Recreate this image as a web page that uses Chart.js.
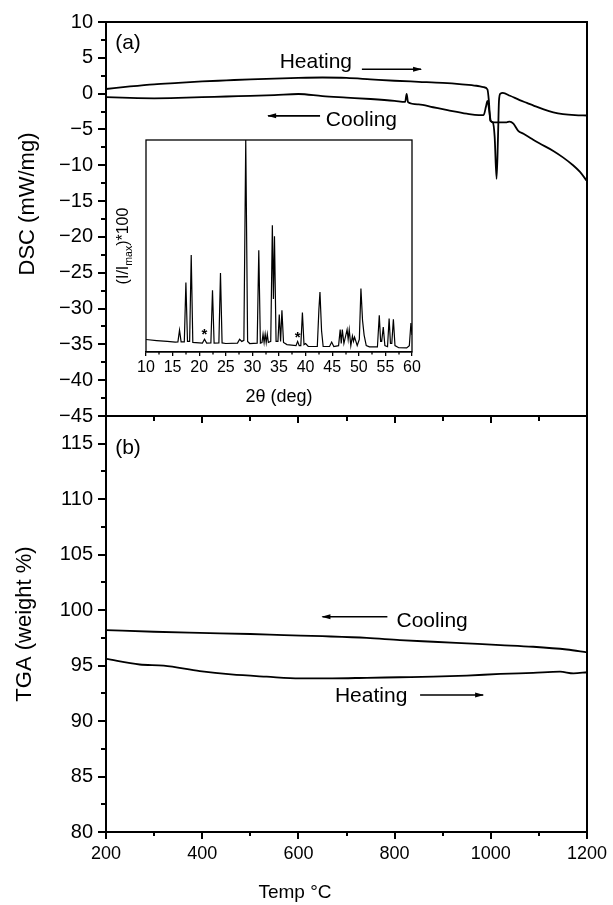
<!DOCTYPE html>
<html>
<head>
<meta charset="utf-8">
<script src="https://cdn.jsdelivr.net/npm/chart.js@4.4.1/dist/chart.umd.min.js"></script>
<style>
  html, body { margin: 0; padding: 0; background: #fff; }
  #wrap { position: relative; width: 613px; height: 905px; background: #fff; overflow: hidden; }
  #wrap canvas { position: absolute; left: 0; top: 0; }
</style>
</head>
<body>
<div id="wrap">
  <canvas id="dsc" width="613" height="905"></canvas>
  <canvas id="tga" width="613" height="905"></canvas>
  <canvas id="xrd" width="613" height="905"></canvas>
</div>
<script>
// ---------- tick labels ----------
const tempTicks = [200, 400, 600, 800, 1000, 1200];
const tempMinorTicks = [300, 500, 700, 900, 1100];
const dscTicks = [-45, -40, -35, -30, -25, -20, -15, -10, -5, 0, 5, 10];
const dscMinorTicks = [-42.5, -37.5, -32.5, -27.5, -22.5, -17.5, -12.5, -7.5, -2.5, 2.5, 7.5];
const tgaTicks = [80, 85, 90, 95, 100, 105, 110, 115];
const tgaMinorTicks = [82.5, 87.5, 92.5, 97.5, 102.5, 107.5, 112.5, 117.5];
const xrdTicks = [10, 15, 20, 25, 30, 35, 40, 45, 50, 55, 60];
const xrdMinorTicks = [12.5, 17.5, 22.5, 27.5, 32.5, 37.5, 42.5, 47.5, 52.5, 57.5];

// ---------- (a) DSC, mW/mg ----------
const dscHeatTemp = [200, 250, 300, 350, 400, 450, 500, 550, 600, 650, 700, 750, 800, 850, 900, 940, 970, 985, 993, 996, 999, 1004, 1008, 1012, 1015, 1017, 1020, 1025, 1040, 1060, 1075, 1090, 1110, 1130, 1150, 1175, 1200];
const dscHeatValue = [0.65, 1.0, 1.3, 1.5, 1.7, 1.85, 2.0, 2.1, 2.2, 2.25, 2.2, 2.0, 1.8, 1.65, 1.5, 1.3, 1.1, 0.9, 0.6, -1.0, -3.8, -4.0, -6.0, -11.9, -6.0, -1.0, 0.0, 0.1, -0.3, -0.9, -1.3, -1.7, -2.2, -2.6, -2.85, -3.0, -3.05];
const dscCoolTemp = [200, 250, 300, 350, 400, 450, 500, 550, 600, 650, 700, 750, 800, 822, 825, 828, 850, 880, 910, 950, 975, 985, 990, 993, 997, 1000, 1005, 1020, 1033, 1039, 1047, 1057, 1068, 1085, 1100, 1130, 1150, 1171, 1185, 1200];
const dscCoolValue = [-0.5, -0.6, -0.65, -0.6, -0.5, -0.4, -0.3, -0.2, -0.05, -0.35, -0.55, -0.75, -1.0, -1.15, -0.05, -1.2, -1.5, -1.9, -2.3, -2.8, -3.0, -3.0, -1.8, -1.0, -2.5, -3.8, -4.0, -4.0, -4.0, -3.9, -4.2, -5.2, -5.6, -6.3, -6.9, -8.0, -8.9, -10.0, -10.9, -12.2];

// ---------- (b) TGA, weight % ----------
const tgaCoolTemp = [200, 300, 395, 500, 570, 650, 742, 811, 880, 950, 1020, 1088, 1158, 1200];
const tgaCoolValue = [98.2, 98.05, 97.95, 97.85, 97.75, 97.65, 97.5, 97.3, 97.15, 97.0, 96.85, 96.7, 96.45, 96.2];
const tgaHeatTemp = [200, 270, 320, 395, 460, 534, 603, 670, 742, 810, 880, 950, 1020, 1088, 1144, 1172, 1200];
const tgaHeatValue = [95.6, 95.1, 95.0, 94.5, 94.2, 94.0, 93.85, 93.85, 93.9, 93.95, 94.0, 94.1, 94.25, 94.35, 94.45, 94.3, 94.4];

// ---------- inset XRD, 2theta (deg) vs (I/Imax)*100 ----------
const xrdAngle = [10.0, 12.0, 14.0, 15.5, 16.0, 16.3, 16.6, 17.2, 17.5, 17.8, 18.2, 18.5, 18.8, 20.6, 21.0, 21.4, 22.2, 22.5, 22.8, 23.7, 24.0, 24.3, 25.0, 27.2, 27.6, 28.0, 28.4, 28.75, 29.1, 29.5, 30.9, 31.2, 31.5, 31.8, 32.0, 32.2, 32.4, 32.6, 32.8, 33.0, 33.45, 33.75, 33.95, 34.15, 34.45, 34.8, 35.05, 35.3, 35.55, 35.85, 36.5, 38.2, 38.5, 38.8, 39.1, 39.4, 39.7, 40.0, 40.5, 42.2, 42.5, 42.7, 43.0, 43.3, 44.5, 44.9, 45.3, 46.2, 46.5, 46.7, 46.9, 47.2, 47.8, 48.0, 48.2, 48.5, 48.8, 49.0, 49.2, 49.4, 49.7, 50.1, 50.4, 50.7, 51.0, 51.4, 52.0, 53.5, 53.85, 54.1, 54.3, 54.6, 54.9, 55.4, 55.7, 55.95, 56.2, 56.5, 56.8, 57.5, 59.0, 59.5, 59.8, 60.0];
const xrdIntensity = [5.9, 5.4, 5.0, 4.7, 4.8, 10.3, 4.8, 4.8, 32.8, 5.0, 5.0, 45.7, 4.5, 4.2, 6.0, 4.2, 4.3, 29.1, 4.2, 4.3, 37.3, 4.3, 4.0, 4.2, 6.0, 5.0, 5.5, 100, 5.0, 4.0, 4.2, 48.0, 4.2, 4.5, 8.4, 4.5, 8.5, 4.5, 8.4, 4.5, 5.0, 59.8, 25.0, 54.6, 5.0, 5.0, 17.7, 5.0, 19.7, 4.5, 3.5, 3.0, 5.0, 3.0, 3.0, 18.6, 3.5, 4.0, 2.6, 2.6, 20.0, 28.3, 10.0, 2.6, 2.6, 4.7, 2.6, 3.0, 10.6, 4.0, 10.6, 4.0, 10.6, 6.0, 10.5, 3.0, 7.5, 5.0, 7.0, 5.5, 3.0, 6.0, 29.9, 15.0, 8.0, 3.0, 2.4, 2.4, 17.3, 5.0, 5.0, 11.8, 3.0, 2.5, 15.8, 4.0, 4.0, 15.4, 3.0, 2.0, 1.9, 3.0, 13.7, 8.0];
const xrdStarAngles = [21.0, 38.5];
const xrdStarLevels = [8.0, 6.5];

// ---------- helpers ----------
const FONT = "'Liberation Sans', Arial, Helvetica, sans-serif";
Chart.defaults.font.family = FONT;
Chart.defaults.color = '#000';

const pts = (xs, ys) => xs.map((x, i) => ({ x: x, y: ys[i] }));
const fixTicks = (list) => (scale) => { scale.ticks = list.map(v => ({ value: v })); };
const fixWidth = (w) => (scale) => { scale.width = w; };
const fixHeight = (h) => (scale) => { scale.height = h; };
const fmt = (v) => (v < 0 ? '\u2212' + Math.abs(v) : String(v));

function drawArrow(ctx, x1, x2, y, dir, lw) {
  ctx.lineWidth = lw;
  ctx.beginPath();
  ctx.moveTo(x1, y); ctx.lineTo(x2, y); ctx.stroke();
  const hx = dir === 'right' ? x2 : x1;
  const s = dir === 'right' ? -1 : 1;
  ctx.beginPath();
  ctx.moveTo(hx - s, y);
  ctx.lineTo(hx + s * 8, y - 2.5);
  ctx.lineTo(hx + s * 8, y + 2.5);
  ctx.closePath(); ctx.fill();
}

function decor(cfg) {
  return {
    id: 'decor',
    afterDraw(chart) {
      const ctx = chart.ctx, a = chart.chartArea;
      const xs = chart.scales.x, ys = chart.scales.y;
      ctx.save();
      ctx.strokeStyle = '#000'; ctx.fillStyle = '#000';
      ctx.lineWidth = cfg.frameWidth;
      ctx.strokeRect(a.left, a.top, a.right - a.left, a.bottom - a.top);
      ctx.lineWidth = cfg.tickWidth;
      ctx.beginPath();
      (cfg.minorX || []).forEach(v => {
        const p = Math.round(xs.getPixelForValue(v));
        ctx.moveTo(p, a.bottom); ctx.lineTo(p, a.bottom + cfg.minorLenX);
      });
      (cfg.minorY || []).forEach(v => {
        const p = Math.round(ys.getPixelForValue(v));
        ctx.moveTo(a.left, p); ctx.lineTo(a.left - cfg.minorLenY, p);
      });
      ctx.stroke();
      (cfg.texts || []).forEach(t => {
        ctx.save();
        ctx.font = t.font;
        ctx.textAlign = t.align || 'left';
        ctx.textBaseline = t.baseline || 'alphabetic';
        const px = t.px !== undefined ? t.px : xs.getPixelForValue(t.x);
        const py = t.py !== undefined ? t.py : ys.getPixelForValue(t.y);
        ctx.translate(px, py);
        if (t.rotate) ctx.rotate(t.rotate);
        ctx.fillText(t.text, 0, 0);
        ctx.restore();
      });
      (cfg.arrows || []).forEach(ar => {
        drawArrow(ctx, xs.getPixelForValue(ar.x1), xs.getPixelForValue(ar.x2), ys.getPixelForValue(ar.y), ar.dir, 1.6);
      });
      if (cfg.after) cfg.after(ctx, chart);
      ctx.restore();
    }
  };
}

const lineDs = (data, w, mode) => ({
  data: data, borderColor: '#000', backgroundColor: '#000', borderWidth: w,
  pointRadius: 0, fill: false, tension: mode === 'monotone' ? 0.4 : 0,
  cubicInterpolationMode: mode === 'monotone' ? 'monotone' : 'default'
});

const baseOpts = {
  responsive: false, animation: false, events: [],
  plugins: { legend: { display: false }, tooltip: { enabled: false } }
};

// ---------- (a) DSC chart ----------
new Chart(document.getElementById('dsc'), {
  type: 'line',
  data: { datasets: [
    lineDs(pts(dscHeatTemp, dscHeatValue), 1.8, 'monotone'),
    lineDs(pts(dscCoolTemp, dscCoolValue), 1.8, 'monotone')
  ] },
  options: Object.assign({}, baseOpts, {
    layout: { padding: { left: 0, top: 22, right: 26, bottom: 475 } },
    scales: {
      x: {
        type: 'linear', min: 200, max: 1200,
        afterBuildTicks: fixTicks(tempTicks), afterFit: fixHeight(14),
        ticks: { display: false },
        grid: { drawOnChartArea: false, color: '#000', lineWidth: 2, tickLength: 7 },
        border: { display: true, color: '#000', width: 2 }
      },
      y: {
        type: 'linear', min: -45, max: 10,
        afterBuildTicks: fixTicks(dscTicks), afterFit: fixWidth(106),
        ticks: { font: { size: 20 }, padding: 5, color: '#000', callback: fmt },
        grid: { drawOnChartArea: false, color: '#000', lineWidth: 2, tickLength: 8 },
        border: { display: true, color: '#000', width: 2 }
      }
    }
  }),
  plugins: [decor({
    frameWidth: 2, tickWidth: 2, minorX: tempMinorTicks, minorY: dscMinorTicks, minorLenX: 5, minorLenY: 5,
    texts: [
      { text: 'DSC (mW/mg)', px: 34, py: 204, font: '22px ' + FONT, align: 'center', baseline: 'alphabetic', rotate: -Math.PI / 2 },
      { text: '(a)', x: 219, y: 7.1, font: '21px ' + FONT, baseline: 'middle' },
      { text: 'Heating', x: 561, y: 3.6, font: '21px ' + FONT },
      { text: 'Cooling', x: 657, y: -4.5, font: '21px ' + FONT }
    ],
    arrows: [
      { x1: 732, x2: 855, y: 3.4, dir: 'right' },
      { x1: 537, x2: 645, y: -3.1, dir: 'left' }
    ]
  })]
});

// ---------- (b) TGA chart ----------
new Chart(document.getElementById('tga'), {
  type: 'line',
  data: { datasets: [
    lineDs(pts(tgaCoolTemp, tgaCoolValue), 1.8, 'monotone'),
    lineDs(pts(tgaHeatTemp, tgaHeatValue), 1.8, 'monotone')
  ] },
  options: Object.assign({}, baseOpts, {
    layout: { padding: { left: 0, top: 416, right: 26, bottom: 0 } },
    scales: {
      x: {
        type: 'linear', min: 200, max: 1200,
        afterBuildTicks: fixTicks(tempTicks), afterFit: fixHeight(73),
        ticks: { font: { size: 18 }, padding: 4, color: '#000', maxRotation: 0, callback: fmt },
        grid: { drawOnChartArea: false, color: '#000', lineWidth: 2, tickLength: 7 },
        border: { display: true, color: '#000', width: 2 }
      },
      y: {
        type: 'linear', min: 80, max: 117.5,
        afterBuildTicks: fixTicks(tgaTicks), afterFit: fixWidth(106),
        ticks: { font: { size: 20 }, padding: 5, color: '#000', callback: fmt },
        grid: { drawOnChartArea: false, color: '#000', lineWidth: 2, tickLength: 8 },
        border: { display: true, color: '#000', width: 2 },
        title: { display: true, text: 'TGA (weight %)', font: { size: 22 }, padding: { top: 12, bottom: 0 }, color: '#000' }
      }
    }
  }),
  plugins: [decor({
    frameWidth: 2, tickWidth: 2, minorX: tempMinorTicks, minorY: tgaMinorTicks, minorLenX: 4, minorLenY: 5,
    texts: [
      { text: '(b)', x: 219, y: 114.6, font: '21px ' + FONT, baseline: 'middle' },
      { text: 'Cooling', x: 804, y: 98.5, font: '21px ' + FONT },
      { text: 'Heating', x: 676, y: 91.7, font: '21px ' + FONT },
      { text: 'Temp \u00B0C', px: 295, py: 898, font: '19px ' + FONT, align: 'center' }
    ],
    arrows: [
      { x1: 650, x2: 785, y: 99.4, dir: 'left' },
      { x1: 853, x2: 984, y: 92.35, dir: 'right' }
    ]
  })]
});

// ---------- inset XRD chart ----------
new Chart(document.getElementById('xrd'), {
  type: 'line',
  data: { datasets: [ lineDs(pts(xrdAngle, xrdIntensity), 1.2, 'straight') ] },
  options: Object.assign({}, baseOpts, {
    layout: { padding: { left: 146, top: 140, right: 201, bottom: 497 } },
    scales: {
      x: {
        type: 'linear', min: 10, max: 60,
        afterBuildTicks: fixTicks(xrdTicks), afterFit: fixHeight(56),
        ticks: { font: { size: 16 }, padding: 2, color: '#000', maxRotation: 0, autoSkip: false },
        grid: { drawOnChartArea: false, color: '#000', lineWidth: 1.3, tickLength: 4 },
        border: { display: true, color: '#000', width: 1.3 },
        title: { display: true, text: '2\u03B8 (deg)', font: { size: 18 }, padding: { top: 0, bottom: 0 }, color: '#000', align: 'center' }
      },
      y: { type: 'linear', min: 0, max: 100, display: false }
    }
  }),
  plugins: [decor({
    frameWidth: 1.3, tickWidth: 1.3, minorX: xrdMinorTicks, minorY: [], minorLenX: 2.5, minorLenY: 0,
    texts: xrdStarAngles.map((a, i) => ({ text: '*', x: a, y: xrdStarLevels[i], font: 'bold 15px ' + FONT, align: 'center', baseline: 'middle' })),
    after: (ctx, chart) => {
      const a = chart.chartArea;
      const cx = a.left - 23, cy = 246;
      const big = '16px ' + FONT, small = '10.5px ' + FONT;
      ctx.font = big; const w1 = ctx.measureText('(I/I').width; const w3 = ctx.measureText(')*100').width;
      ctx.font = small; const w2 = ctx.measureText('max').width;
      const total = w1 + w2 + w3;
      ctx.translate(cx, cy); ctx.rotate(-Math.PI / 2);
      ctx.textAlign = 'left'; ctx.textBaseline = 'alphabetic';
      const x0 = -total / 2;
      ctx.font = big; ctx.fillText('(I/I', x0, 5);
      ctx.font = small; ctx.fillText('max', x0 + w1, 9);
      ctx.font = big; ctx.fillText(')*100', x0 + w1 + w2, 5);
    }
  })]
});
</script>
</body>
</html>
